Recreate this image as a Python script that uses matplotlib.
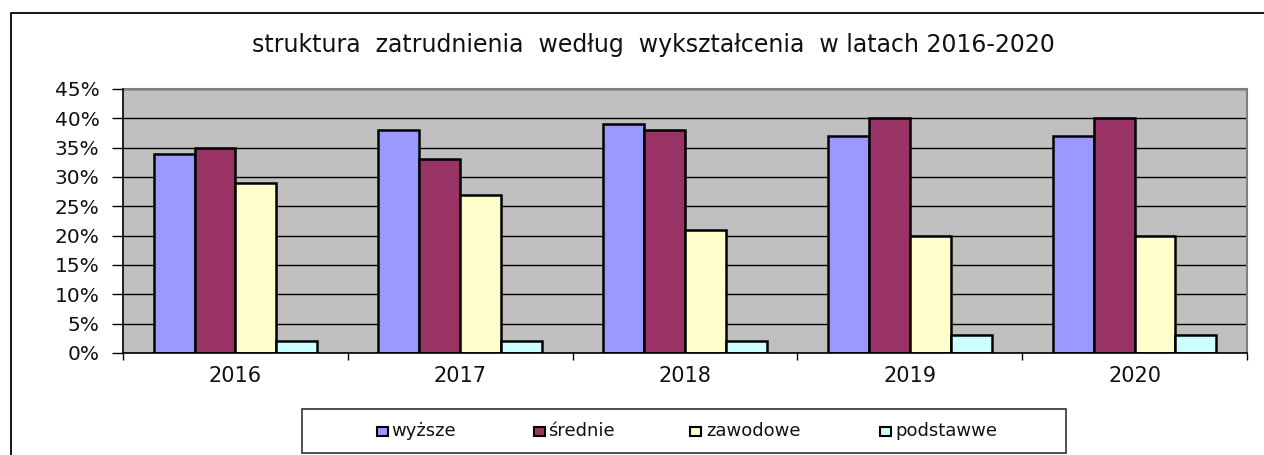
import matplotlib
matplotlib.use("Agg")
import matplotlib.pyplot as plt
import numpy as np
from matplotlib.patches import Rectangle
from matplotlib.lines import Line2D

years = ["2016", "2017", "2018", "2019", "2020"]
series_names = ["wyższe", "średnie", "zawodowe", "podstawwe"]
wyzsze = [34, 38, 39, 37, 37]
srednie = [35, 33, 38, 40, 40]
zawodowe = [29, 27, 21, 20, 20]
podstawowe = [2, 2, 2, 3, 3]
series_values = [wyzsze, srednie, zawodowe, podstawowe]
colors = ["#9999FF", "#993366", "#FFFFCC", "#CCFFFF"]
title = "struktura  zatrudnienia  według  wykształcenia  w latach 2016-2020"

plt.rcParams['font.family'] = ['DejaVu Sans']

W, H = 1264, 455
fig = plt.figure(figsize=(W / 100, H / 100), dpi=100)
fig.patch.set_facecolor("white")

def fx(px):
    return px / W

def fy(py):
    return 1 - py / H

ax = fig.add_axes([fx(123), fy(353), fx(1247) - fx(123), fy(89) - fy(353)])
ax.set_facecolor("#C0C0C0")

n = len(years)
bw = 1 / 5.5
x = np.arange(n)
for i, (vals, c) in enumerate(zip(series_values, colors)):
    offs = (i - 1.5) * bw
    ax.bar(x + offs, vals, width=bw, color=c, edgecolor="black",
           linewidth=1.8, zorder=3, label=series_names[i])

ax.set_xlim(-0.5, n - 0.5)
ax.set_ylim(0, 45)
ax.set_yticks(np.arange(0, 46, 5))
ax.set_yticklabels([f"{v}%" for v in range(0, 46, 5)], fontsize=14.5, color="#111111")
ax.set_xticks(x)
ax.set_xticklabels(years, fontsize=15, color="#111111")
ax.set_xticks(np.arange(-0.5, n, 1), minor=True)
ax.tick_params(axis="x", which="major", length=0, pad=9)
ax.tick_params(axis="x", which="minor", length=5, width=1, color="black", direction="out")
ax.tick_params(axis="y", length=8, width=1, color="black", pad=9)
ax.yaxis.grid(True, color="black", linewidth=1)
ax.set_axisbelow(True)

for s in ["left", "bottom"]:
    ax.spines[s].set_color("black")
    ax.spines[s].set_linewidth(1.2)
for s in ["top", "right"]:
    ax.spines[s].set_color("#808080")
    ax.spines[s].set_linewidth(1.5)
ax.spines["left"].set_zorder(4)
ax.spines["bottom"].set_zorder(4)

fig.text(fx(653), fy(52), title, fontsize=17, ha="center", va="baseline",
         color="#111111")

# outer frame (left and top edges)
fig.add_artist(Line2D([fx(11), fx(11), fx(1264)], [fy(455), fy(13), fy(13)],
                      color="black", linewidth=1.3, transform=fig.transFigure))

# legend box
fig.add_artist(Rectangle((fx(302), fy(453)), fx(1066) - fx(302), fy(409) - fy(453),
                         transform=fig.transFigure, facecolor="white",
                         edgecolor="#404040", linewidth=1.3))
leg_x = [377, 534, 690, 880]
text_x = [391, 548, 706, 895]
for px, tx, name, c in zip(leg_x, text_x, series_names, colors):
    fig.add_artist(Rectangle((fx(px), fy(436)), fx(11), 9 / H,
                             transform=fig.transFigure, facecolor=c,
                             edgecolor="black", linewidth=1.5))
    fig.text(fx(tx), fy(436), name, fontsize=13, ha="left", va="baseline",
             color="#111111")

fig.savefig("out.png", dpi=100)
